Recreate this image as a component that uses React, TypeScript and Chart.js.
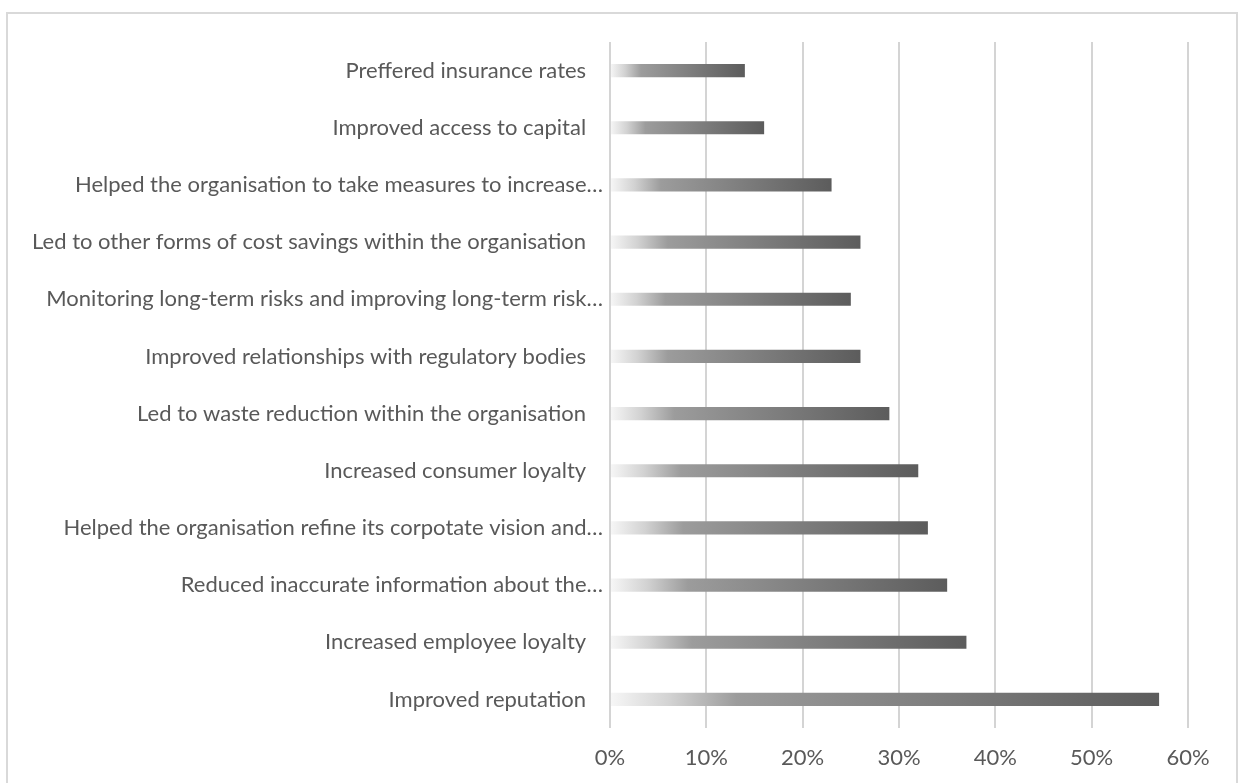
import { useEffect, useRef } from "react";
import { Chart, registerables } from "chart.js";

Chart.register(...registerables);

const categories: string[] = [
  "Preffered insurance rates",
  "Improved access to capital",
  "Helped the organisation to take measures to increase…",
  "Led to other forms of cost savings within the organisation",
  "Monitoring long-term risks and improving long-term risk…",
  "Improved relationships with regulatory bodies",
  "Led to waste reduction within the organisation",
  "Increased consumer loyalty",
  "Helped the organisation refine its corpotate vision and…",
  "Reduced inaccurate information about the…",
  "Increased employee loyalty",
  "Improved reputation",
];

const values: number[] = [14, 16, 23, 26, 25, 26, 29, 32, 33, 35, 37, 57];

const axisMin = 0;
const axisMax = 60;
const axisStep = 10;

const TEXT_COLOR = "#595959";
const GRID_COLOR = "#d4d4d4";
const FONT_FAMILY = "Lato, 'Noto Sans', sans-serif";
const FONT_SIZE = 22;

export default function App() {
  const ref = useRef<HTMLCanvasElement | null>(null);

  useEffect(() => {
    document.body.style.margin = "0";
    document.body.style.overflow = "hidden";
    const canvas = ref.current;
    if (!canvas) return;

    const chart = new Chart(canvas, {
      type: "bar",
      data: {
        labels: categories,
        datasets: [
          {
            data: values,
            borderWidth: 0,
            barPercentage: 0.23,
            categoryPercentage: 1,
            backgroundColor: (ctx: any) => {
              const c = ctx.chart;
              const xs = c.scales && c.scales.x;
              if (!xs || ctx.raw == null) return "#7a7a7a";
              const x0 = xs.getPixelForValue(0);
              const x1 = xs.getPixelForValue(ctx.raw);
              if (!isFinite(x0) || !isFinite(x1) || x1 <= x0) return "#7a7a7a";
              const g = c.ctx.createLinearGradient(x0, 0, x1, 0);
              g.addColorStop(0, "#f7f7f7");
              g.addColorStop(0.11, "#d2d2d2");
              g.addColorStop(0.23, "#9c9c9c");
              g.addColorStop(1, "#5c5c5c");
              return g;
            },
          },
        ],
      },
      options: {
        indexAxis: "y",
        responsive: false,
        animation: false,
        devicePixelRatio: 1,
        layout: { padding: { top: 42, right: 52, left: 0, bottom: 0 } },
        plugins: {
          legend: { display: false },
          tooltip: { enabled: false },
        },
        scales: {
          x: {
            min: axisMin,
            max: axisMax,
            border: { display: false },
            grid: {
              color: GRID_COLOR,
              lineWidth: 2,
              drawTicks: false,
            },
            ticks: {
              stepSize: axisStep,
              padding: 17,
              color: TEXT_COLOR,
              font: { family: FONT_FAMILY, size: FONT_SIZE },
              callback: (v: any) => `${v}%`,
            },
            afterFit: (scale: any) => {
              scale.height = 55;
            },
          },
          y: {
            border: { display: false },
            grid: { display: false, drawTicks: false },
            ticks: {
              padding: 7,
              color: TEXT_COLOR,
              font: { family: FONT_FAMILY, size: FONT_SIZE },
              callback: function (this: any, v: any) {
                const label = String(this.getLabelForValue(v));
                return label.endsWith("…") ? label : label + "   ";
              },
            },
            afterFit: (scale: any) => {
              scale.width = 610;
            },
          },
        },
      },
    });

    return () => chart.destroy();
  }, []);

  return (
    <div
      style={{
        position: "relative",
        width: 1240,
        height: 783,
        overflow: "hidden",
        background: "#ffffff",
      }}
    >
      <div
        style={{
          position: "absolute",
          left: 6,
          top: 12,
          width: 1232,
          height: 820,
          border: "2px solid #d9d9d9",
          boxSizing: "border-box",
        }}
      />
      <canvas
        ref={ref}
        width={1240}
        height={783}
        style={{ position: "absolute", left: 0, top: 0, width: 1240, height: 783 }}
      />
    </div>
  );
}
